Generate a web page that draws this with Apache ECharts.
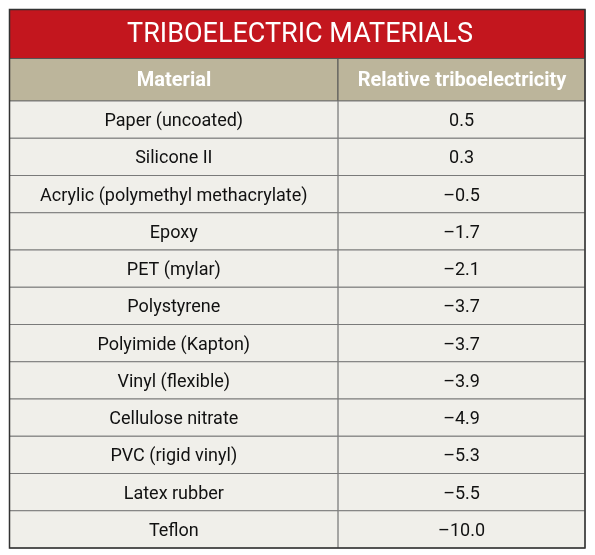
<!DOCTYPE html><html><head><meta charset="utf-8"><script src="https://cdn.jsdelivr.net/npm/echarts@6/dist/echarts.min.js"></script>
<style>html,body{margin:0;padding:0;background:#fff}#c{width:595px;height:555px}</style></head><body><div id="c"></div><script>
const title='TRIBOELECTRIC MATERIALS';
const headers=['Material','Relative triboelectricity'];
const materials=['Paper (uncoated)','Silicone II','Acrylic (polymethyl methacrylate)','Epoxy','PET (mylar)','Polystyrene','Polyimide (Kapton)','Vinyl (flexible)','Cellulose nitrate','PVC (rigid vinyl)','Latex rubber','Teflon'];
const values=[0.5,0.3,-0.5,-1.7,-2.1,-3.7,-3.7,-3.9,-4.9,-5.3,-5.5,-10.0];
const colEdges=[0,0.571,1];
const fmt=v=>(v<0?'\u2013':'')+Math.abs(v).toFixed(1);
const F='Roboto';
const chart=echarts.init(document.getElementById('c'));
const data=[];
materials.forEach((m,i)=>{data.push([0,i,m]);data.push([1,i,fmt(values[i])]);});
chart.setOption({
 animation:false,
 grid:{left:9.5,right:10,top:101,bottom:7},
 xAxis:{type:'value',min:0,max:1,show:false},
 yAxis:{type:'category',data:materials,inverse:true,show:false},
 series:[{type:'custom',data:data,encode:{x:0,y:1},
  renderItem:(p,api)=>{
   const c=api.value(0),r=api.value(1);
   const x0=api.coord([colEdges[c],r])[0],x1=api.coord([colEdges[c+1],r])[0];
   const h=api.size([0,1])[1];const yc=api.coord([0,r])[1];
   return {type:'group',children:[
    {type:'rect',shape:{x:x0,y:yc-h/2,width:x1-x0,height:h},style:{fill:'#f0efea',stroke:'#7a7a7a',lineWidth:1}},
    {type:'text',style:{x:(x0+x1)/2,y:yc+2,text:data[p.dataIndex][2],textAlign:'center',textVerticalAlign:'middle',font:'18px '+F,fill:'#111'}}]};
  }}],
 graphic:[
  {type:'rect',shape:{x:9.5,y:9.5,width:575.5,height:49},style:{fill:'#c3161e',stroke:'#444',lineWidth:1}},
  {type:'text',style:{x:300,y:35,text:title,textAlign:'center',textVerticalAlign:'middle',font:'27px '+F,fill:'#fff'}},
  {type:'rect',shape:{x:9.5,y:58.5,width:328.5,height:42.5},style:{fill:'#bcb59b',stroke:'#555',lineWidth:1}},
  {type:'rect',shape:{x:338,y:58.5,width:247,height:42.5},style:{fill:'#bcb59b',stroke:'#555',lineWidth:1}},
  {type:'text',style:{x:174,y:81,text:headers[0],textAlign:'center',textVerticalAlign:'middle',font:'bold 20px '+F,fill:'#fff'}},
  {type:'text',style:{x:462,y:81,text:headers[1],textAlign:'center',textVerticalAlign:'middle',font:'bold 20px '+F,fill:'#fff'}},
  {type:'rect',z:100,shape:{x:9.5,y:9.5,width:575.5,height:538.5},style:{fill:'none',stroke:'#333',lineWidth:1.5}}
 ]
});
</script></body></html>
